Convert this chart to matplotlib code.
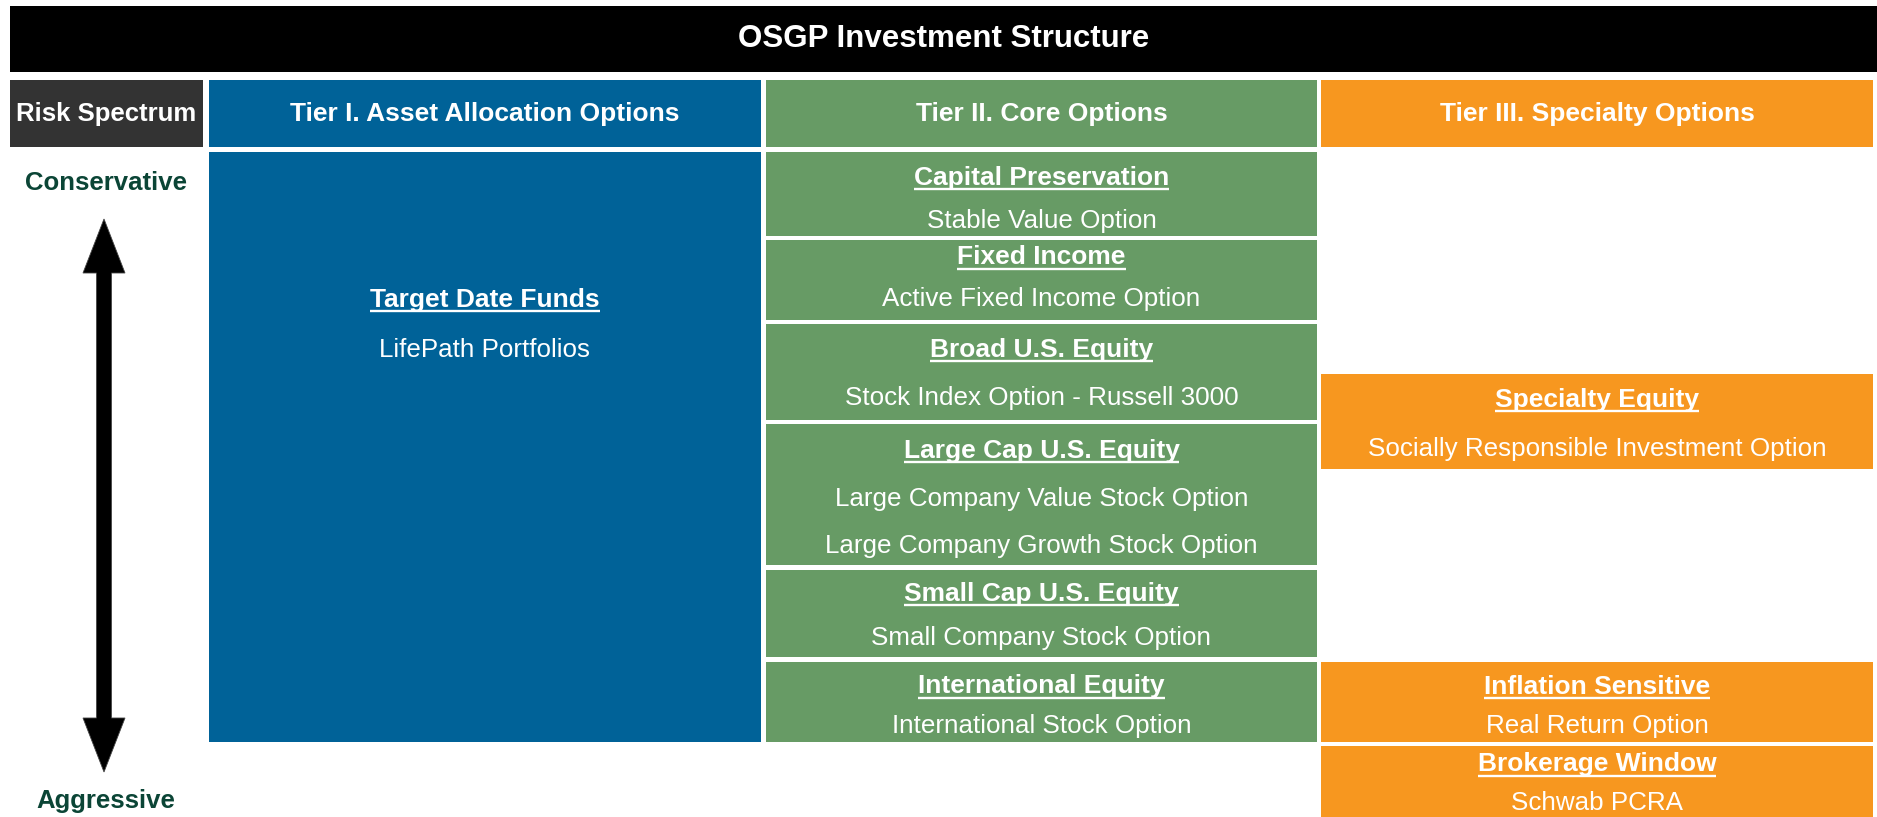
import matplotlib
matplotlib.use("Agg")
import matplotlib.pyplot as plt
from matplotlib.patches import Rectangle, Polygon

plt.rcParams['font.family'] = ['Liberation Sans', 'DejaVu Sans']

# --- content ---
title = "OSGP Investment Structure"
headers = ["Risk Spectrum", "Tier I. Asset Allocation Options",
           "Tier II. Core Options", "Tier III. Specialty Options"]
risk_ends = ["Conservative", "Aggressive"]

tier1_titles = ["Target Date Funds"]
tier1_subs = [["LifePath Portfolios"]]

tier2_titles = ["Capital Preservation", "Fixed Income", "Broad U.S. Equity",
                "Large Cap U.S. Equity", "Small Cap U.S. Equity", "International Equity"]
tier2_subs = [["Stable Value Option"], ["Active Fixed Income Option"],
              ["Stock Index Option - Russell 3000"],
              ["Large Company Value Stock Option", "Large Company Growth Stock Option"],
              ["Small Company Stock Option"], ["International Stock Option"]]

tier3_titles = ["Specialty Equity", "Inflation Sensitive", "Brokerage Window"]
tier3_subs = [["Socially Responsible Investment Option"], ["Real Return Option"],
              ["Schwab PCRA"]]

# --- layout (pixels, y downwards) ---
W, H = 1877, 817
BLUE, GREEN, ORANGE, GREY = "#006298", "#679B65", "#F7971F", "#333333"
DKGREEN = "#0B4536"
col_x = [(10, 203), (209, 761), (766, 1317), (1321, 1873)]
col_fc = [GREY, BLUE, GREEN, ORANGE]

# box spans (top, bottom), title y, sub line ys
tier1_layout = [((152, 742), 297, [347])]
tier2_layout = [((152, 236), 175, [218]), ((240, 320), 255, [296]),
                ((324, 420), 347, [395]), ((424, 565), 448, [496, 543]),
                ((570, 657), 591, [636]), ((662, 742), 684, [724])]
tier3_layout = [((374, 469), 397, [446]), ((662, 742), 684, [724]),
                ((746, 817), 762, [800])]

fig = plt.figure(figsize=(W / 100, H / 100), dpi=100)
ax = fig.add_axes([0, 0, 1, 1])
ax.set_xlim(0, W)
ax.set_ylim(H, 0)
ax.axis('off')

# title bar
ax.add_patch(Rectangle((10, 6), W - 10, 66, fc='black', ec='none'))
ax.text((10 + W) / 2, 39, title, color='white', fontsize=22.5, fontweight='bold',
        ha='center', va='center')

# header row
for i, ((x0, x1), fc, lab) in enumerate(zip(col_x, col_fc, headers)):
    ax.add_patch(Rectangle((x0, 80), x1 - x0, 67, fc=fc, ec='none'))
    ax.text((x0 + x1) / 2, 114, lab, color='white', fontsize=18.5 if i == 0 else 19,
            fontweight='bold', ha='center', va='center')

underlined = []


def draw_column(ci, titles, subs, layout):
    x0, x1 = col_x[ci]
    xc = (x0 + x1) / 2
    for t, ss, ((top, bot), ty, sys) in zip(titles, subs, layout):
        ax.add_patch(Rectangle((x0, top), x1 - x0, bot - top, fc=col_fc[ci], ec='none'))
        tt = ax.text(xc, ty + 9.5, t, color='white', fontsize=19, fontweight='bold',
                     ha='center', va='baseline')
        underlined.append((tt, ty + 14))
        for s, sy in zip(ss, sys):
            ax.text(xc, sy + 9.5, s, color='white', fontsize=18.7, ha='center', va='baseline')


draw_column(1, tier1_titles, tier1_subs, tier1_layout)
draw_column(2, tier2_titles, tier2_subs, tier2_layout)
draw_column(3, tier3_titles, tier3_subs, tier3_layout)

# risk spectrum: double-headed arrow as one outline
ax.text(106, 183, risk_ends[0], color=DKGREEN, fontsize=18.5, fontweight='bold',
        ha='center', va='center')
ax.text(106, 801, risk_ends[1], color=DKGREEN, fontsize=18.5, fontweight='bold',
        ha='center', va='center')
ax_x, top_tip, bot_tip = 104, 219, 772
sw, hw, hl = 7.5, 21, 54
arrow_pts = [(ax_x, top_tip), (ax_x + hw, top_tip + hl), (ax_x + sw, top_tip + hl),
             (ax_x + sw, bot_tip - hl), (ax_x + hw, bot_tip - hl), (ax_x, bot_tip),
             (ax_x - hw, bot_tip - hl), (ax_x - sw, bot_tip - hl),
             (ax_x - sw, top_tip + hl), (ax_x - hw, top_tip + hl)]
ax.add_patch(Polygon(arrow_pts, closed=True, fc='black', ec='#444444', lw=0.6))

# underlines under the bold box titles
fig.canvas.draw()
r = fig.canvas.get_renderer()
inv = ax.transData.inverted()
for tt, uy in underlined:
    bb = tt.get_window_extent(r)
    (ux0, _), (ux1, _) = inv.transform([(bb.x0, bb.y0), (bb.x1, bb.y0)])
    ax.plot([ux0, ux1], [uy, uy], color='white', lw=1.7, solid_capstyle='butt')

fig.savefig("out.png", dpi=100, facecolor='white')
